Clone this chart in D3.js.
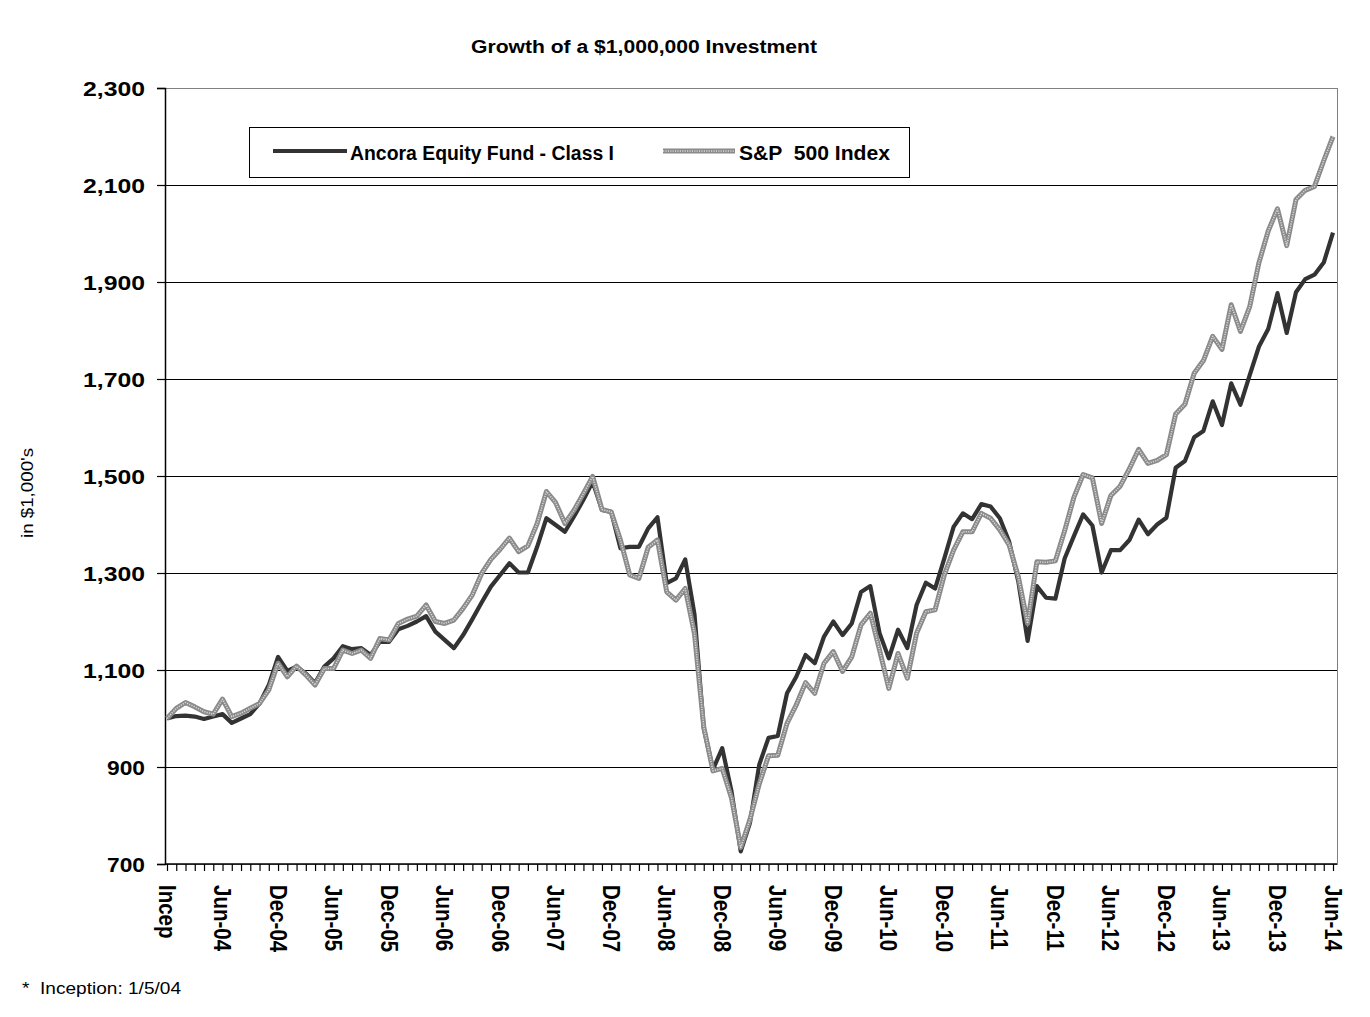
<!DOCTYPE html>
<html>
<head>
<meta charset="utf-8">
<script src="https://cdn.jsdelivr.net/npm/d3@7"></script>
<style>
  html, body { margin: 0; padding: 0; background: #ffffff; }
  #chart { width: 1370px; height: 1017px; }
  text { font-family: "Liberation Sans", Arial, sans-serif; white-space: pre; }
</style>
</head>
<body>
<div id="chart"></div>
<script>
// month-end values, Incep (1/5/04) through Jun-14, in $1,000's
const ancora = [
  1000, 1005, 1006, 1004, 999, 1004, 1009, 991, 1000, 1009, 1031, 1069,
  1127, 1098, 1107, 1093, 1073, 1107, 1124, 1149, 1143, 1145, 1131, 1158,
  1158, 1184, 1191, 1200, 1211, 1179, 1162, 1145, 1172, 1205, 1239, 1272,
  1296, 1320, 1301, 1301, 1354, 1413, 1399, 1385, 1417, 1451, 1488, 1430,
  1426, 1351, 1354, 1354, 1392, 1415, 1279, 1289, 1328, 1215, 980, 895,
  939, 850, 726, 785, 905, 960, 964, 1052, 1086, 1131, 1114, 1169,
  1200, 1172, 1196, 1261, 1273, 1176, 1124, 1183, 1145, 1234, 1280, 1268,
  1330, 1395, 1423, 1411, 1442, 1437, 1413, 1365, 1282, 1160, 1273, 1249,
  1247, 1330, 1376, 1421, 1398, 1301, 1347, 1347, 1368, 1410, 1380, 1400,
  1414, 1517, 1531, 1580, 1593, 1654, 1605, 1691, 1647, 1708, 1767, 1803,
  1877, 1795, 1879, 1906, 1915, 1940, 2002
];

const sp500 = [
  1000, 1021, 1033, 1024, 1014, 1009, 1040, 1004, 1011, 1021, 1031, 1059,
  1114, 1086, 1108, 1090, 1069, 1103, 1103, 1141, 1134, 1141, 1124, 1165,
  1162, 1196, 1205, 1211, 1234, 1200, 1196, 1203, 1227, 1255, 1299, 1328,
  1349, 1372, 1344, 1356, 1402, 1468, 1445, 1402, 1430, 1464, 1499, 1431,
  1426, 1368, 1296, 1289, 1353, 1368, 1261, 1244, 1268, 1175, 983, 892,
  897, 836, 734, 792, 865, 923, 924, 990, 1028, 1074, 1052, 1114,
  1138, 1097, 1127, 1193, 1217, 1141, 1062, 1134, 1083, 1176, 1220, 1224,
  1296, 1347, 1385, 1385, 1423, 1413, 1389, 1358, 1292, 1196, 1323, 1322,
  1325, 1387, 1456, 1503, 1496, 1402, 1460, 1479, 1515, 1555, 1526, 1532,
  1544, 1628, 1648, 1712, 1738, 1788, 1761, 1853, 1798, 1849, 1940, 2005,
  2051, 1975, 2070, 2089, 2097, 2150, 2200
];

// one label every sixth month
const tickLabels = [
  "Incep", "Jun-04", "Dec-04", "Jun-05", "Dec-05", "Jun-06", "Dec-06",
  "Jun-07", "Dec-07", "Jun-08", "Dec-08", "Jun-09", "Dec-09", "Jun-10",
  "Dec-10", "Jun-11", "Dec-11", "Jun-12", "Dec-12", "Jun-13", "Dec-13", "Jun-14"
];

const yTicks = [700, 900, 1100, 1300, 1500, 1700, 1900, 2100, 2300];

const seriesNames = ["Ancora Equity Fund - Class I", "S&P  500 Index"];

function growthChart(width, height) {
  const margin = { top: 88, right: 33, bottom: 153, left: 165 };
  const innerWidth = width - margin.left - margin.right;
  const innerHeight = height - margin.top - margin.bottom;

  const root = d3.select("#chart")
    .append("svg")
    .attr("width", width)
    .attr("height", height)
    .attr("viewBox", `0 0 ${width} ${height}`);

  const svg = root.append("g")
    .attr("transform", `translate(${margin.left},${margin.top})`);

  const months = d3.range(ancora.length);

  const xScale = d3.scalePoint()
    .domain(months)
    .range([2, innerWidth - 4]);

  const yScale = d3.scaleLinear()
    .domain([700, 2300])
    .range([innerHeight, 0]);

  // plot frame (grey top / right edge)
  svg.append("rect")
    .attr("x", 0.5)
    .attr("y", 0.5)
    .attr("width", innerWidth)
    .attr("height", innerHeight)
    .attr("fill", "#ffffff")
    .attr("stroke", "#808080")
    .attr("stroke-width", 1)
    .attr("shape-rendering", "crispEdges");

  // horizontal grid
  svg.append("g")
    .attr("class", "grid")
    .selectAll("line")
    .data(yTicks.filter(d => d > 700 && d < 2300))
    .enter()
    .append("line")
    .attr("x1", 0)
    .attr("x2", innerWidth)
    .attr("y1", d => Math.round(yScale(d)) + 0.5)
    .attr("y2", d => Math.round(yScale(d)) + 0.5)
    .attr("stroke", "#000000")
    .attr("stroke-width", 1)
    .attr("shape-rendering", "crispEdges");

  // y axis
  const yAxis = d3.axisLeft(yScale)
    .tickValues(yTicks)
    .tickSize(8)
    .tickPadding(12)
    .tickFormat(d3.format(","));

  const yg = svg.append("g")
    .attr("class", "y-axis")
    .call(yAxis);
  yg.select(".domain").attr("stroke", "#000").attr("stroke-width", 1.5);
  yg.selectAll(".tick line").attr("stroke", "#000").attr("stroke-width", 1.2);
  yg.selectAll(".tick text")
    .attr("fill", "#000")
    .style("font-size", "21px")
    .style("font-weight", "bold")
    .attr("dy", "0.36em")
    .attr("textLength", d => d >= 1000 ? 62 : 38)
    .attr("lengthAdjust", "spacingAndGlyphs");

  // x axis: a tick every month, a label every six
  const xAxis = d3.axisBottom(xScale)
    .tickSize(7)
    .tickFormat("");

  const xg = svg.append("g")
    .attr("class", "x-axis")
    .attr("transform", `translate(0,${innerHeight})`)
    .call(xAxis);
  xg.select(".domain").attr("d", `M0,0H${innerWidth}`).attr("stroke", "#000").attr("stroke-width", 1.5);
  xg.selectAll(".tick line").attr("stroke", "#000").attr("stroke-width", 1.2);

  svg.append("g")
    .attr("class", "x-labels")
    .selectAll("text")
    .data(tickLabels)
    .enter()
    .append("text")
    .attr("transform", (d, i) => `translate(${xScale(i * 6)},${innerHeight + 21}) scale(1.15,1) rotate(90)`)
    .attr("dy", "0.36em")
    .attr("text-anchor", "start")
    .style("font-size", "20.5px")
    .style("font-weight", "bold")
    .attr("fill", "#000")
    .text(d => d);

  // series lines
  const line = d3.line()
    .x((d, i) => xScale(i))
    .y(d => yScale(d));

  svg.append("path")
    .datum(ancora)
    .attr("fill", "none")
    .attr("stroke", "#333333")
    .attr("stroke-width", 4.2)
    .attr("stroke-linejoin", "round")
    .attr("d", line);

  svg.append("path")
    .datum(sp500)
    .attr("fill", "none")
    .attr("stroke", "#8a8a8a")
    .attr("stroke-width", 5)
    .attr("stroke-linejoin", "round")
    .attr("d", line);

  svg.append("path")
    .datum(sp500)
    .attr("fill", "none")
    .attr("stroke", "#d8d8d8")
    .attr("stroke-width", 1.6)
    .attr("stroke-dasharray", "1.2,1.2")
    .attr("stroke-linejoin", "round")
    .attr("d", line);

  // legend
  const legend = root.append("g").attr("class", "legend");
  legend.append("rect")
    .attr("x", 249.5)
    .attr("y", 127.5)
    .attr("width", 660)
    .attr("height", 50)
    .attr("fill", "#ffffff")
    .attr("stroke", "#000")
    .attr("stroke-width", 1)
    .attr("shape-rendering", "crispEdges");

  legend.append("line")
    .attr("x1", 273).attr("x2", 347)
    .attr("y1", 151).attr("y2", 151)
    .attr("stroke", "#333333")
    .attr("stroke-width", 4.2);

  legend.append("line")
    .attr("x1", 663).attr("x2", 735)
    .attr("y1", 151).attr("y2", 151)
    .attr("stroke", "#8a8a8a")
    .attr("stroke-width", 5);
  legend.append("line")
    .attr("x1", 663).attr("x2", 735)
    .attr("y1", 151).attr("y2", 151)
    .attr("stroke", "#d8d8d8")
    .attr("stroke-width", 1.6)
    .attr("stroke-dasharray", "1.2,1.2");

  legend.append("text")
    .attr("x", 350)
    .attr("y", 160)
    .attr("textLength", 264)
    .attr("lengthAdjust", "spacingAndGlyphs")
    .style("font-size", "19.5px")
    .style("font-weight", "bold")
    .text(seriesNames[0]);

  legend.append("text")
    .attr("x", 739)
    .attr("y", 160)
    .attr("textLength", 151)
    .attr("lengthAdjust", "spacingAndGlyphs")
    .style("font-size", "19.5px")
    .style("font-weight", "bold")
    .text(seriesNames[1]);

  // title
  root.append("text")
    .attr("x", 644)
    .attr("y", 53)
    .attr("text-anchor", "middle")
    .attr("textLength", 346)
    .attr("lengthAdjust", "spacingAndGlyphs")
    .style("font-size", "18px")
    .style("font-weight", "bold")
    .text("Growth of a $1,000,000 Investment");

  // y axis title
  root.append("text")
    .attr("transform", "translate(27,493) rotate(-90)")
    .attr("dy", "0.35em")
    .attr("text-anchor", "middle")
    .attr("textLength", 90)
    .attr("lengthAdjust", "spacingAndGlyphs")
    .style("font-size", "17px")
    .text("in $1,000's");

  // footnote
  root.append("text")
    .attr("x", 22)
    .attr("y", 994)
    .attr("textLength", 159)
    .attr("lengthAdjust", "spacingAndGlyphs")
    .style("font-size", "17px")
    .text("*  Inception: 1/5/04");
}

growthChart(1370, 1017);
</script>
</body>
</html>
